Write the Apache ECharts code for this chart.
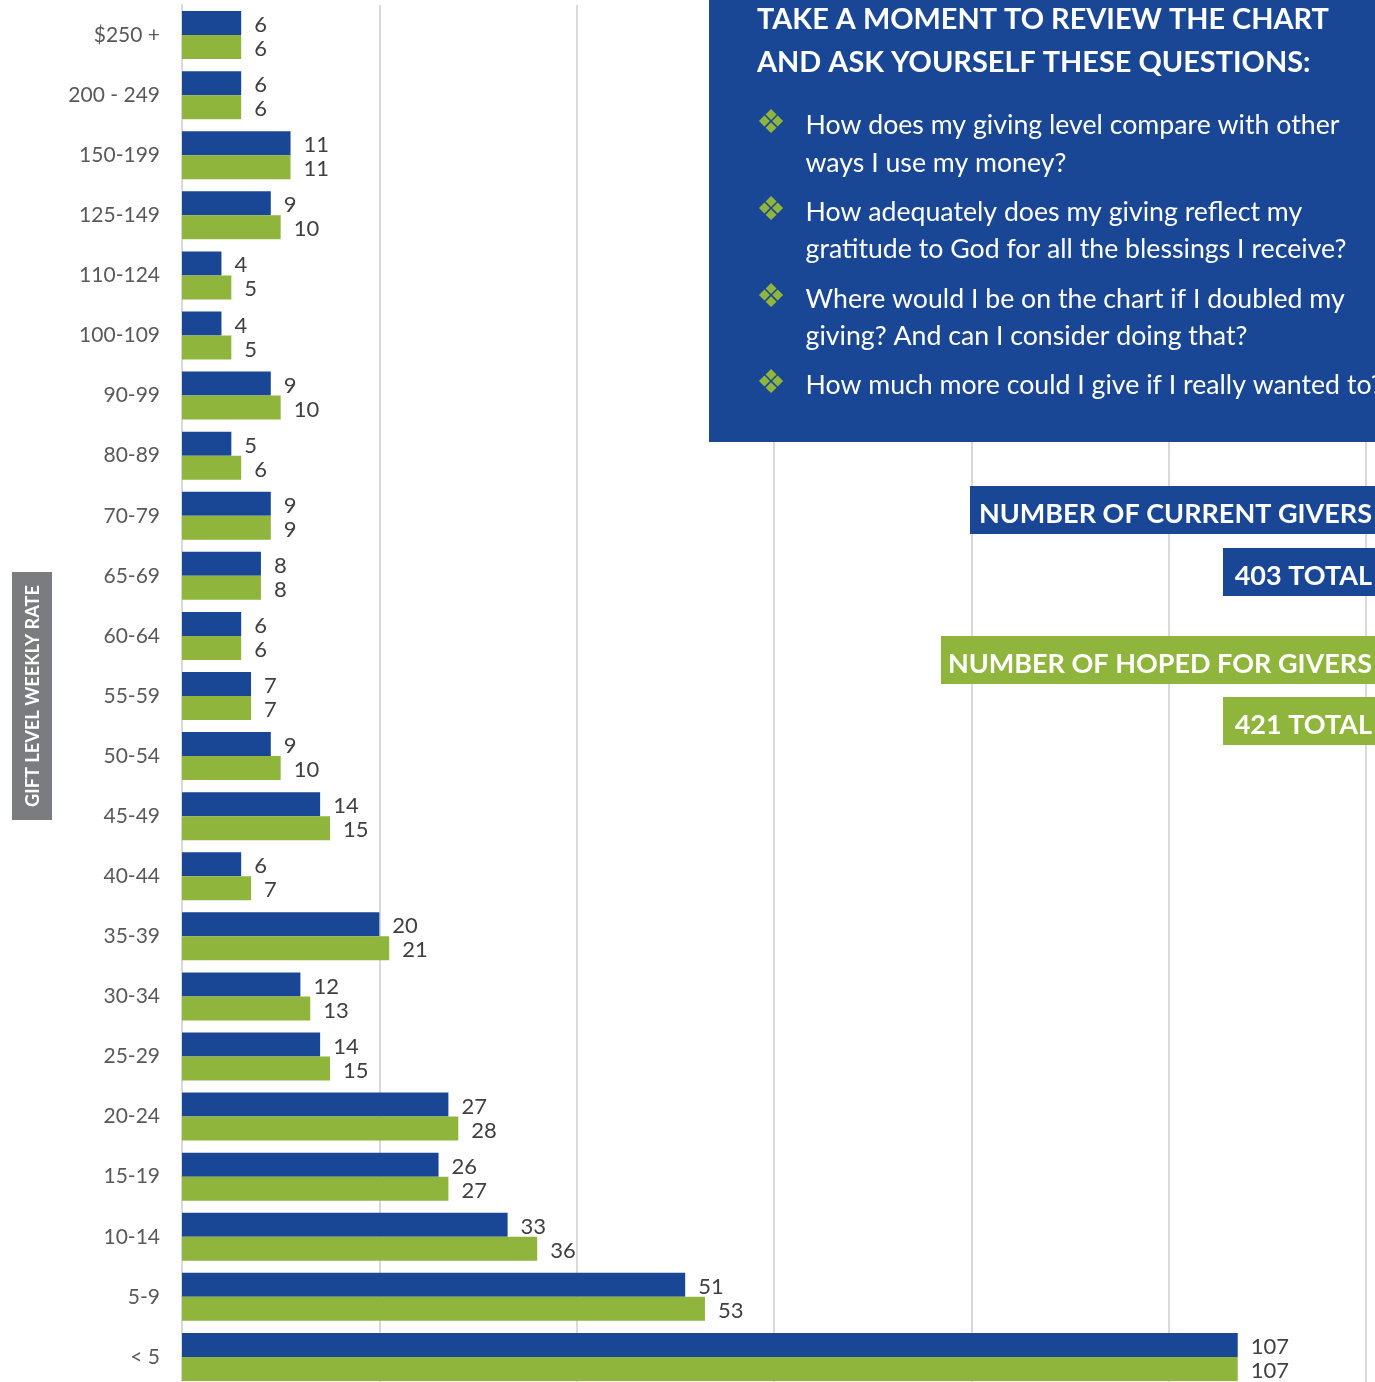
<!DOCTYPE html>
<html>
<head>
<meta charset="utf-8">
<style>
  html, body { margin: 0; padding: 0; background: #fff; overflow: hidden; }
  #chart { width: 1375px; height: 1382px; }
</style>
<script src="https://cdn.jsdelivr.net/npm/echarts@6/dist/echarts.min.js"></script>
</head>
<body>
<div id="chart"></div>
<script>
const categories = ['$250 +', '200 - 249', '150-199', '125-149', '110-124', '100-109', '90-99', '80-89', '70-79', '65-69', '60-64', '55-59', '50-54', '45-49', '40-44', '35-39', '30-34', '25-29', '20-24', '15-19', '10-14', '5-9', '< 5']
const currentGivers = [6, 6, 11, 9, 4, 4, 9, 5, 9, 8, 6, 7, 9, 14, 6, 20, 12, 14, 27, 26, 33, 51, 107]
const hopedGivers = [6, 6, 11, 10, 5, 5, 10, 6, 9, 8, 6, 7, 10, 15, 7, 21, 13, 15, 28, 27, 36, 53, 107]

const titleLines = ['TAKE A MOMENT TO REVIEW THE CHART', 'AND ASK YOURSELF THESE QUESTIONS:']
const questionLines = [
  'How does my giving level compare with other',
  'ways I use my money?',
  'How adequately does my giving reflect my',
  'gratitude to God for all the blessings I receive?',
  'Where would I be on the chart if I doubled my',
  'giving? And can I consider doing that?',
  'How much more could I give if I really wanted to?'
]

const BLUE = '#1a4696'
const GREEN = '#8fb53c'
const FONT = 'Lato, "Open Sans", sans-serif'

const questionY = [125, 163, 212, 249, 299, 336, 385]
const bulletY = [124, 211, 298, 384]

function text (x, y, str, size, opt) {
  return {
    type: 'text',
    x: x,
    y: y,
    z: 12,
    style: Object.assign({
      text: str,
      fill: '#fff',
      font: size + 'px ' + FONT,
      verticalAlign: 'middle'
    }, opt || {})
  }
}

function box (x, y, w, h, color) {
  return { type: 'rect', z: 10, shape: { x: x, y: y, width: w, height: h }, style: { fill: color } }
}

function barSeries (name, data, color) {
  return {
    type: 'bar',
    name: name,
    data: data,
    barWidth: 24,
    barGap: 0,
    itemStyle: { color: color },
    label: {
      show: true,
      position: 'right',
      distance: 13,
      offset: [0, 2],
      color: '#404040',
      fontFamily: FONT,
      fontSize: 22
    }
  }
}

const graphics = [
  box(709, 0, 666, 442, BLUE),
  box(970, 486, 405, 48, BLUE),
  box(1223, 548, 152, 48, BLUE),
  box(941, 636, 434, 48, GREEN),
  box(1223, 697, 152, 48, GREEN),
  box(12, 572, 40, 248, '#7b7c80')
]
titleLines.forEach((s, i) => {
  graphics.push(text(757, i === 0 ? 20 : 63, s, 29, { font: 'bold 28.9px ' + FONT }))
})
questionLines.forEach((s, i) => {
  graphics.push(text(805.5, questionY[i], s, 26.7))
})
bulletY.forEach(y => {
  graphics.push(text(771, y, '❖', 33, { font: '33px "DejaVu Sans"', fill: GREEN, align: 'center' }))
})
graphics.push(text(1372, 514, 'NUMBER OF CURRENT GIVERS', 27, { font: 'bold 27px ' + FONT, align: 'right' }))
graphics.push(text(1372, 576, '403 TOTAL', 27, { font: 'bold 27px ' + FONT, align: 'right' }))
graphics.push(text(1372, 664, 'NUMBER OF HOPED FOR GIVERS', 27, { font: 'bold 27px ' + FONT, align: 'right' }))
graphics.push(text(1372, 725, '421 TOTAL', 27, { font: 'bold 27px ' + FONT, align: 'right' }))
graphics.push({
  type: 'text',
  x: 33,
  y: 696,
  rotation: Math.PI / 2,
  z: 12,
  style: {
    text: 'GIFT LEVEL WEEKLY RATE',
    fill: '#fff',
    font: 'bold 18.2px ' + FONT,
    align: 'center',
    verticalAlign: 'middle'
  }
})

const option = {
  animation: false,
  grid: { left: 182, top: 5, width: 1184, height: 1382, outerBoundsMode: 'none' },
  xAxis: {
    type: 'value',
    min: 0,
    max: 120,
    interval: 20,
    axisLabel: { show: false },
    axisLine: { show: false },
    axisTick: { show: false },
    splitLine: { show: true, lineStyle: { color: '#d9d9d9', width: 2 } }
  },
  yAxis: {
    type: 'category',
    inverse: true,
    data: categories,
    axisTick: { show: false },
    axisLine: { show: true, lineStyle: { color: '#d9d9d9', width: 2 } },
    axisLabel: {
      interval: 0,
      margin: 22,
      color: '#595959',
      fontFamily: FONT,
      fontSize: 21,
      padding: [2, 0, 0, 0]
    }
  },
  series: [
    barSeries('Number of current givers', currentGivers, BLUE),
    barSeries('Number of hoped for givers', hopedGivers, GREEN)
  ],
  graphic: graphics
}

const chart = echarts.init(document.getElementById('chart'))
chart.setOption(option)
</script>
</body>
</html>
